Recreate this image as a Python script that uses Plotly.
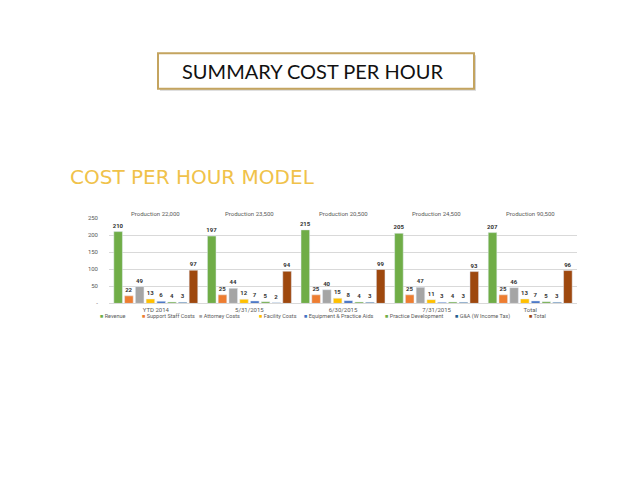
import plotly.graph_objects as go

W, H = 638, 493

categories = ["YTD 2014", "5/31/2015", "6/30/2015", "7/31/2015", "Total"]
production = ["Production 22,000", "Production 23,500", "Production 20,500",
              "Production 24,500", "Production 90,500"]

series_names = ["Revenue", "Support Staff Costs", "Attorney Costs", "Facility Costs",
                "Equipment & Practice Aids", "Practice Development",
                "G&A (W Income Tax)", "Total"]

revenue = [210, 197, 215, 205, 207]
support_staff = [22, 25, 25, 25, 25]
attorney = [49, 44, 40, 47, 46]
facility = [13, 12, 15, 11, 13]
equipment = [6, 7, 8, 3, 7]
practice_dev = [4, 5, 4, 4, 5]
g_and_a = [3, 2, 3, 3, 3]
total = [97, 94, 99, 93, 96]

series_values = [revenue, support_staff, attorney, facility, equipment,
                 practice_dev, g_and_a, total]

colors = ["#70AD47", "#ED7D31", "#A5A5A5", "#FFC000", "#4472C4",
          "#70AD47", "#255E91", "#9E480E"]

y_ticks = [0, 50, 100, 150, 200, 250]
y_ticktext = ["-", "50", "100", "150", "200", "250"]

FONT = "Roboto"


def px(x):
    return x / W


def py(y):
    return 1 - y / H


fig = go.Figure()
for name, vals, col in zip(series_names, series_values, colors):
    fig.add_trace(go.Bar(
        x=categories, y=vals, name=name, marker_color=col,
        text=[str(v) for v in vals], textposition="outside",
        textfont=dict(size=6, color="#333333", family=FONT, weight="bold"),
        cliponaxis=False, showlegend=False,
    ))

fig.update_layout(
    width=W, height=H,
    margin=dict(l=0, r=0, t=0, b=0),
    paper_bgcolor="white", plot_bgcolor="white",
    barmode="group", bargap=0.08, bargroupgap=0.2,
    uniformtext=dict(minsize=6, mode="show"),
    xaxis=dict(domain=[px(109), px(577)], showline=True, linecolor="#d9d9d9",
               linewidth=1, ticks="",
               tickfont=dict(size=6, color="#595959", family=FONT),
               fixedrange=True),
    yaxis=dict(domain=[py(303.7), py(217)], range=[0, 250], tickvals=y_ticks,
               ticktext=y_ticktext, showgrid=True, gridcolor="#d9d9d9",
               zeroline=False, ticks="", ticklabelstandoff=10,
               tickfont=dict(size=6, color="#595959", family=FONT),
               fixedrange=True),
)

# Production annotations above each group
for cat, prod in zip(categories, production):
    fig.add_annotation(x=cat, y=py(213), xref="x", yref="paper", text=prod,
                       showarrow=False, yanchor="middle",
                       font=dict(size=6, color="#595959", family=FONT))

# Manual legend
legend_x = [98, 140, 197, 257, 302, 383, 453, 527]
for name, col, lx in zip(series_names, colors, legend_x):
    fig.add_annotation(x=px(lx), y=py(317), xref="paper", yref="paper",
                       xanchor="left", yanchor="middle", showarrow=False,
                       text=f"<span style='color:{col}'>■</span> {name}",
                       font=dict(size=5.5, color="#595959", family=FONT))

# Title box with shadow
fig.add_shape(type="rect", xref="paper", yref="paper",
              x0=px(160), x1=px(476), y0=py(88), y1=py(52),
              line=dict(width=0), fillcolor="#d4d4d4", layer="below")
fig.add_shape(type="rect", xref="paper", yref="paper",
              x0=px(158), x1=px(474), y0=py(86), y1=py(50),
              line=dict(color="#C4A45F", width=2), fillcolor="white", layer="below")
fig.add_annotation(x=px(313), y=py(68), xref="paper", yref="paper",
                   text="SUMMARY COST PER HOUR", showarrow=False,
                   xanchor="center", yanchor="middle",
                   font=dict(size=20, color="#111111", family="Lato"))

# Subtitle
fig.add_annotation(x=px(68), y=py(175), xref="paper", yref="paper",
                   text="COST PER HOUR MODEL", showarrow=False,
                   xanchor="left", yanchor="middle",
                   font=dict(size=20, color="#F0C24A", family="DejaVu Sans"))

fig.write_html("out.html")
